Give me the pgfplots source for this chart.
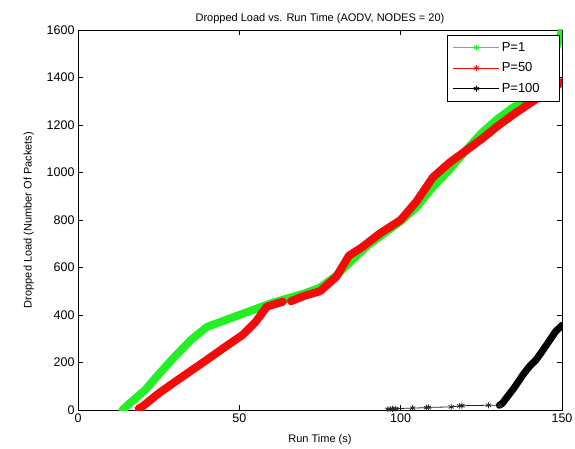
\documentclass[border=0pt]{standalone}
\usepackage{fontspec}
\setmainfont{Liberation Sans}
\usepackage{pgfplots}
\pgfplotsset{compat=1.18}
\definecolor{mgreen}{RGB}{35,240,35}
\definecolor{mred}{RGB}{245,10,10}
\begin{document}
\begin{tikzpicture}
\begin{axis}[
  scale only axis,
  width=484pt, height=380pt,
  xmin=0, xmax=150, ymin=0, ymax=1600,
  xtick={0,50,100,150},
  ytick={0,200,...,1600},
  tick align=inside,
  major tick length=5pt,
  tick style={black, line width=0.6pt},
  axis line style={black, line width=0.6pt},
  /pgf/number format/assume math mode=true,
  /pgf/number format/1000 sep={},
  ticklabel style={font=\fontsize{12.5}{13}\selectfont},
  title={Dropped Load vs. Run Time (AODV, NODES = 20)},
  title style={font=\fontsize{11}{12}\selectfont, yshift=-3pt},
  xlabel={Run Time (s)},
  ylabel={Dropped Load (Number Of Packets)},
  label style={font=\fontsize{11}{12}\selectfont},
  xlabel style={yshift=-5pt},
  ylabel style={yshift=6pt},
  legend style={at={(1,1)}, anchor=north east, xshift=-2pt, yshift=-5pt,
    font=\fontsize{13}{14}\selectfont, row sep=6pt, inner xsep=6pt, inner ysep=5pt,
    draw=black, line width=0.6pt},
  legend cell align=left,
  legend image code/.code={
    \draw[mark repeat=2,mark phase=2,#1] plot coordinates {(0pt,0pt) (23pt,0pt) (46pt,0pt)};
  },
]
% legend entries
\addlegendimage{mgreen, line width=0.8pt, mark=asterisk, mark size=3pt}
\addlegendentry{P=1}
\addlegendimage{mred, line width=0.8pt, mark=asterisk, mark size=3pt}
\addlegendentry{P=50}
\addlegendimage{black, line width=0.8pt, mark=asterisk, mark size=3pt}
\addlegendentry{P=100\rule{12pt}{0pt}}

% P=1
\addplot[mgreen, line width=8pt, line join=round, line cap=round, forget plot] coordinates {
(13.8,0) (16,28) (20.8,84) (25,150) (30,225) (35,295) (40,350) (45,375) (50,400) (55,425) (60,450) (65,470) (70,490) (75,515) (80,565) (85,632) (90,695) (95,745) (100,795) (105,855) (110,940) (115,1010) (120,1090) (125,1165) (130,1225) (135,1275) (138,1300) (142,1370) (145,1440) (148,1520) (150,1595)
};
% P=50
\addplot[mred, line width=8pt, line join=round, line cap=round, forget plot] coordinates {
(18.8,6) (20,15) (25,70) (30,118) (35,165) (40,212) (45,260) (51,316) (55,370) (58.5,435) (63.5,456)
};
\addplot[mred, line width=8pt, line join=round, line cap=round, forget plot] coordinates {
(66,458) (70,480) (75,500) (80,560) (84,650) (88,685) (93.6,744) (100,800) (105,880) (110,980) (115,1040) (120,1090) (125,1140) (130,1195) (135,1245) (140,1291) (145,1335) (150,1381)
};
% P=100 sparse part
\addplot[black!85, line width=0.8pt, mark=asterisk, mark size=3pt, forget plot] coordinates {
(96,3) (96.8,4) (97.5,5) (98.5,6) (103.7,8) (108,10) (108.6,11) (115.7,13) (118.3,17) (119,18) (127.2,20) (130.6,20)
};
% P=100 dense part
\addplot[black, line width=7pt, line join=round, line cap=round, forget plot] coordinates {
(130.6,20) (131.5,28) (133,55) (135,90) (138,150) (140,185) (142,212) (144,250) (146,290) (148,330) (150,357)
};
\end{axis}
\pgfresetboundingbox
\path[use as bounding box] (-78pt,-38pt) rectangle (497pt,410pt);
\end{tikzpicture}
\end{document}
